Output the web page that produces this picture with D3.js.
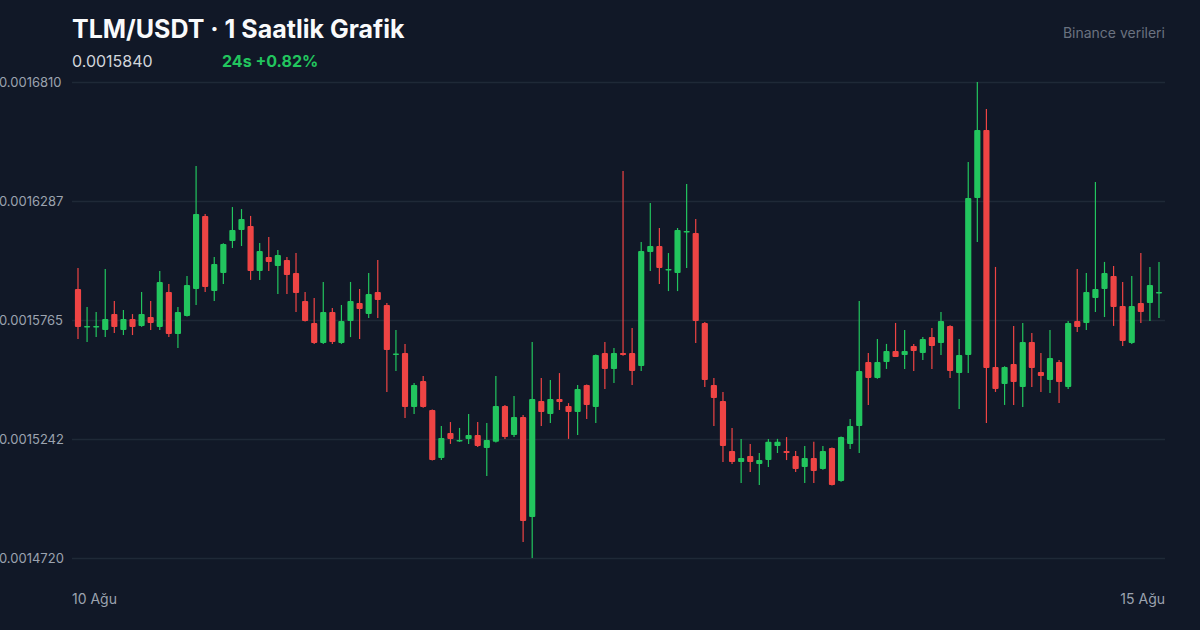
<!DOCTYPE html>
<html>
<head>
<meta charset="utf-8">
<script src="https://cdn.jsdelivr.net/npm/d3@7"></script>
<style>
  body { margin: 0; background: #111827; }
  #chart { width: 1200px; height: 630px; }
  text { font-family: "Inter", "Liberation Sans", sans-serif; }
</style>
</head>
<body>
<div id="chart"></div>
<script>
// hourly candles, prices in units of 1e-7 USDT
const opens  = [15901,15734,15734,15721,15791,15721,15769,15739,15778,15734,15888,15704,15783,15901,16222,15892,15971,16112,16160,16178,
                15980,16042,16002,16028,15971,15848,15752,15664,15800,15664,15761,15840,15791,15888,15831,15614,15620,15383,15497,15370,
                15159,15269,15234,15243,15260,15203,15230,15387,15260,15339,14900,15409,15352,15418,15387,15361,15480,15383,15620,15550,
                15620,15620,15563,16064,16090,15985,15971,16151,16147,15752,15480,15409,15190,15141,15168,15133,15150,15212,15190,15168,
                15120,15159,15111,15203,15058,15221,15300,15581,15510,15581,15629,15611,15651,15620,15690,15664,15739,15532,15611,16301,
                16599,15559,15484,15572,15471,15668,15537,15502,15581,15471,15761,15752,15862,15901,15958,15826,15664,15840,15840,15884];
const highs  = [15993,15822,15800,15989,15848,15809,15791,15888,15848,15980,15923,15822,15958,16441,16230,16042,16102,16261,16252,16222,
                16103,16129,16072,16042,16059,15888,15862,15932,15818,15831,15932,15901,15971,16028,15840,15721,15660,15488,15519,15372,
                15300,15317,15291,15352,15317,15313,15519,15392,15431,15348,15668,15510,15502,15532,15400,15480,15482,15613,15668,15642,
                16419,15730,16107,16279,16169,16059,16169,16362,16208,15756,15510,15449,15291,15243,15221,15181,15243,15243,15251,15190,
                15212,15230,15212,15205,15253,15330,15848,15620,15682,15660,15752,15721,15660,15690,15730,15800,15742,15682,16459,16810,
                16691,15998,15562,15739,15752,15708,15620,15721,15589,15761,15989,15971,16371,16020,16002,15932,15958,16059,15998,16020];
const lows   = [15682,15668,15690,15690,15708,15699,15699,15735,15721,15721,15690,15642,15780,15831,15888,15848,15923,16081,16090,15941,
                15941,15980,15879,15879,15800,15758,15660,15660,15660,15660,15690,15682,15774,15774,15449,15541,15335,15352,15380,15148,
                15150,15221,15230,15221,15207,15080,15227,15243,15251,14790,14720,15300,15313,15370,15243,15260,15330,15313,15462,15488,
                15608,15480,15541,15980,15923,15892,15892,15993,15664,15471,15300,15141,15133,15049,15098,15041,15120,15181,15150,15098,
                15049,15049,15108,15038,15055,15199,15181,15392,15507,15550,15626,15550,15541,15589,15550,15611,15510,15374,15532,16107,
                15313,15449,15392,15392,15383,15471,15449,15444,15401,15462,15712,15721,15800,15778,15739,15651,15660,15752,15761,15774];
const closes = [15734,15739,15739,15769,15734,15769,15734,15791,15752,15932,15704,15800,15919,16230,15910,16011,16099,16160,16208,15980,
                16068,16020,16050,15963,15884,15761,15664,15800,15668,15761,15848,15813,15879,15853,15633,15618,15383,15480,15383,15150,
                15247,15243,15238,15260,15212,15238,15387,15251,15339,14882,15418,15361,15418,15405,15361,15462,15392,15611,15550,15620,
                15611,15541,16068,16090,15993,15989,16160,16156,15761,15502,15423,15212,15141,15159,15141,15150,15230,15230,15181,15111,
                15159,15102,15190,15041,15251,15300,15541,15510,15581,15629,15603,15629,15629,15682,15651,15761,15541,15611,16301,16599,
                15554,15462,15559,15493,15668,15554,15519,15598,15493,15752,15734,15888,15901,15971,15822,15673,15826,15800,15919,15888];

const yTicks = [14720, 15242, 15765, 16287, 16810];
const xLabels = ["10 Ağu", "15 Ağu"];

const data = opens.map(function(o, i) {
    return {i: i, open: o / 1e7, high: highs[i] / 1e7, low: lows[i] / 1e7, close: closes[i] / 1e7};
});

const width = 1200, height = 630;
const margin = {top: 82, left: 72, right: 35, bottom: 72};

const svg = d3.select("#chart").append("svg")
    .attr("width", width)
    .attr("height", height);

svg.append("rect").attr("width", width).attr("height", height).attr("fill", "#111827");

const xScale = d3.scaleBand()
    .domain(data.map(function(d) { return d.i; }))
    .range([margin.left, width - margin.right])
    .padding(0.32);

const yScale = d3.scaleLinear()
    .domain([yTicks[0] / 1e7, yTicks[yTicks.length - 1] / 1e7])
    .range([height - margin.bottom, margin.top]);

/* grid + y labels */
const yAxis = svg.append("g")
    .attr("transform", `translate(${margin.left},0)`)
    .call(d3.axisLeft(yScale)
        .tickValues(yTicks.map(function(t) { return t / 1e7; }))
        .tickSize(-(width - margin.left - margin.right))
        .tickFormat(function(d) { return d.toFixed(7); }));
yAxis.select(".domain").remove();
yAxis.selectAll(".tick line").attr("stroke", "#1f2937").attr("stroke-width", 1.5);
yAxis.selectAll(".tick text")
    .attr("x", -margin.left - 1)
    .attr("text-anchor", "start")
    .attr("fill", "#9ca3af")
    .attr("font-size", 13);

/* candles */
const color = function(d) { return d.close >= d.open ? "#22c55e" : "#ef4444"; };
const candles = svg.selectAll(".candle").data(data).enter().append("g").attr("class", "candle");

candles.append("line")
    .attr("x1", function(d) { return xScale(d.i) + xScale.bandwidth() / 2; })
    .attr("x2", function(d) { return xScale(d.i) + xScale.bandwidth() / 2; })
    .attr("y1", function(d) { return yScale(d.high); })
    .attr("y2", function(d) { return yScale(d.low); })
    .attr("stroke", color)
    .attr("stroke-width", 1.2);

candles.append("rect")
    .attr("x", function(d) { return xScale(d.i); })
    .attr("width", xScale.bandwidth())
    .attr("y", function(d) { return yScale(Math.max(d.open, d.close)); })
    .attr("height", function(d) { return Math.max(1.5, Math.abs(yScale(d.open) - yScale(d.close))); })
    .attr("rx", 1)
    .attr("fill", color);

/* x labels */
svg.append("text").attr("x", margin.left).attr("y", 604)
    .attr("fill", "#9ca3af").attr("font-size", 14).text(xLabels[0]);
svg.append("text").attr("x", width - margin.right).attr("y", 604).attr("text-anchor", "end")
    .attr("fill", "#9ca3af").attr("font-size", 14).text(xLabels[1]);

/* header */
svg.append("text").attr("x", 72).attr("y", 38)
    .attr("fill", "#f9fafb").attr("font-size", 25).attr("font-weight", 700)
    .text("TLM/USDT · 1 Saatlik Grafik");
svg.append("text").attr("x", 72).attr("y", 67)
    .attr("fill", "#d1d5db").attr("font-size", 16).text("0.0015840");
svg.append("text").attr("x", 222).attr("y", 67)
    .attr("fill", "#22c55e").attr("font-size", 16).attr("font-weight", 700).text("24s +0.82%");
svg.append("text").attr("x", width - margin.right).attr("y", 38).attr("text-anchor", "end")
    .attr("fill", "#6b7280").attr("font-size", 14).text("Binance verileri");
</script>
</body>
</html>
